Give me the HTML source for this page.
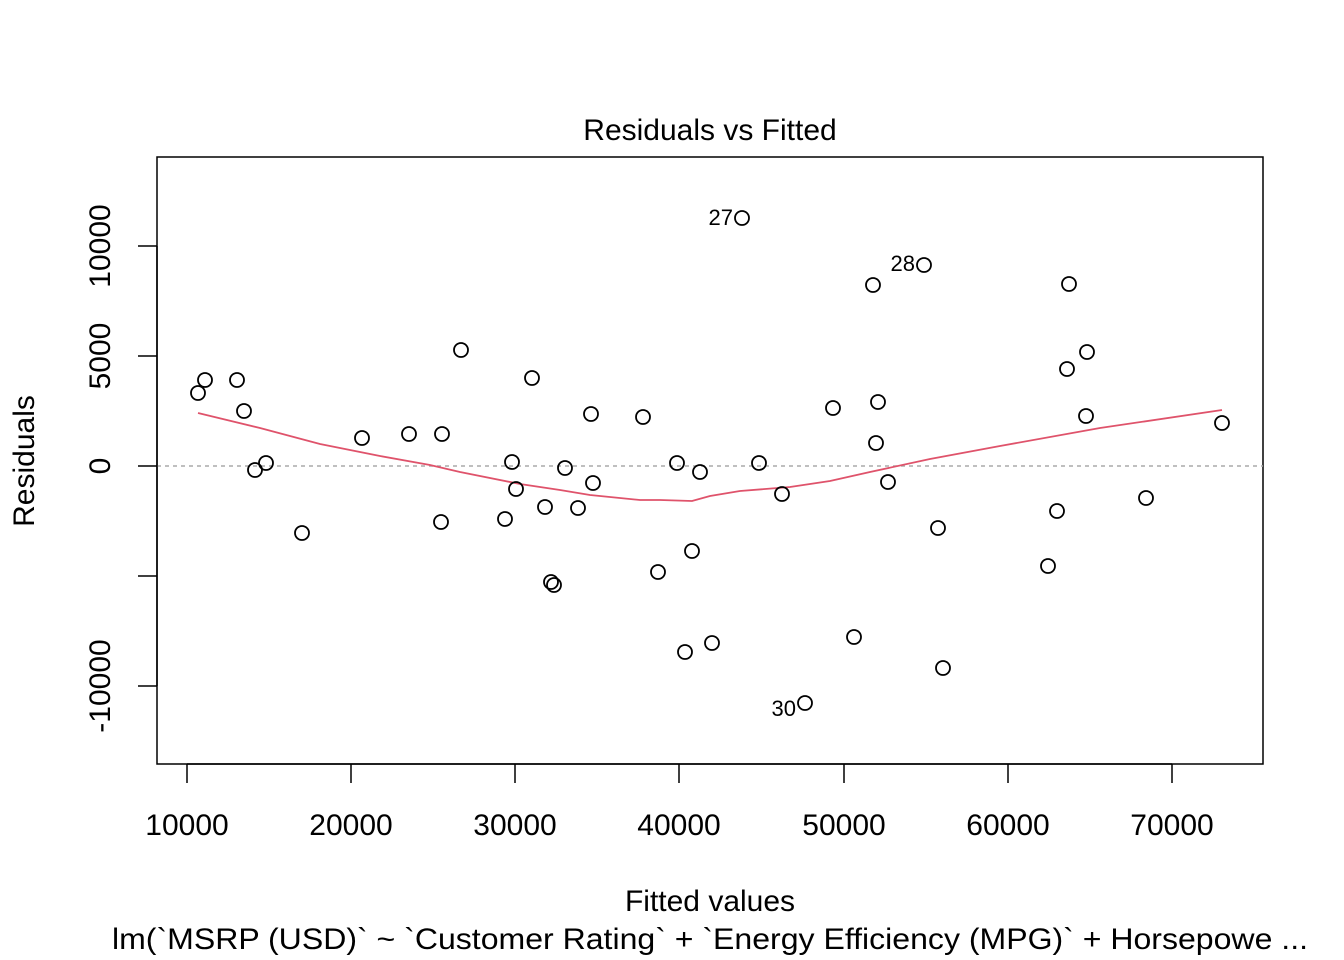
<!DOCTYPE html>
<html><head><meta charset="utf-8"><style>body{margin:0;background:#fff}svg{display:block}text{font-family:"Liberation Sans",Arial,sans-serif;fill:#000}</style></head><body>
<svg width="1344" height="960" xmlns="http://www.w3.org/2000/svg">
<rect x="157" y="157" width="1106" height="607" fill="none" stroke="#000" stroke-width="1.5"/>
<line x1="157" y1="466" x2="1263" y2="466" stroke="#aaa" stroke-width="1.5" stroke-dasharray="4,4"/>
<g stroke="#000" stroke-width="1.5">
<line x1="187" y1="764" x2="1172" y2="764"/>
<line x1="187" y1="764" x2="187" y2="783"/><line x1="351" y1="764" x2="351" y2="783"/><line x1="515" y1="764" x2="515" y2="783"/><line x1="679" y1="764" x2="679" y2="783"/><line x1="844" y1="764" x2="844" y2="783"/><line x1="1008" y1="764" x2="1008" y2="783"/><line x1="1172" y1="764" x2="1172" y2="783"/>
<line x1="157" y1="246" x2="157" y2="686"/>
<line x1="138" y1="246" x2="157" y2="246"/><line x1="138" y1="356" x2="157" y2="356"/><line x1="138" y1="466" x2="157" y2="466"/><line x1="138" y1="576" x2="157" y2="576"/><line x1="138" y1="686" x2="157" y2="686"/>
</g>
<g font-size="30" text-anchor="middle">
<text x="187" y="835">10000</text><text x="351" y="835">20000</text><text x="515" y="835">30000</text><text x="679" y="835">40000</text><text x="844" y="835">50000</text><text x="1008" y="835">60000</text><text x="1172" y="835">70000</text>
<text transform="translate(110,246) rotate(-90)">10000</text>
<text transform="translate(110,356) rotate(-90)">5000</text>
<text transform="translate(110,466) rotate(-90)">0</text>
<text transform="translate(110,686) rotate(-90)">-10000</text>
<text transform="translate(34,461) rotate(-90)">Residuals</text>
<text x="710" y="911">Fitted values</text>
<text x="710" y="140">Residuals vs Fitted</text>
<text x="710" y="949" textLength="1196" lengthAdjust="spacingAndGlyphs">lm(`MSRP (USD)` ~ `Customer Rating` + `Energy Efficiency (MPG)` + Horsepowe ...</text>
</g>
<polyline fill="none" stroke="#DF536B" stroke-width="1.8" points="198,413 260,428 320,444 380,456 430,465 460,472 520,484 560,490 590,495 640,500 660,500 692,501 710,496 740,491 790,487 830,481 870,472 930,459 1000,446 1100,428 1222,410"/>
<g fill="none" stroke="#000" stroke-width="1.8">
<circle cx="198" cy="393" r="7"/><circle cx="205" cy="380" r="7"/><circle cx="237" cy="380" r="7"/><circle cx="244" cy="411" r="7"/><circle cx="255" cy="470" r="7"/><circle cx="266" cy="463" r="7"/><circle cx="302" cy="533" r="7"/><circle cx="362" cy="438" r="7"/><circle cx="409" cy="434" r="7"/><circle cx="442" cy="434" r="7"/><circle cx="441" cy="522" r="7"/><circle cx="461" cy="350" r="7"/><circle cx="505" cy="519" r="7"/><circle cx="512" cy="462" r="7"/><circle cx="516" cy="489" r="7"/><circle cx="532" cy="378" r="7"/><circle cx="545" cy="507" r="7"/><circle cx="551" cy="582" r="7"/><circle cx="554" cy="585" r="7"/><circle cx="565" cy="468" r="7"/><circle cx="578" cy="508" r="7"/><circle cx="591" cy="414" r="7"/><circle cx="593" cy="483" r="7"/><circle cx="643" cy="417" r="7"/><circle cx="658" cy="572" r="7"/><circle cx="677" cy="463" r="7"/><circle cx="685" cy="652" r="7"/><circle cx="692" cy="551" r="7"/><circle cx="700" cy="472" r="7"/><circle cx="712" cy="643" r="7"/><circle cx="742" cy="218" r="7"/><circle cx="759" cy="463" r="7"/><circle cx="782" cy="494" r="7"/><circle cx="805" cy="703" r="7"/><circle cx="833" cy="408" r="7"/><circle cx="854" cy="637" r="7"/><circle cx="873" cy="285" r="7"/><circle cx="876" cy="443" r="7"/><circle cx="878" cy="402" r="7"/><circle cx="888" cy="482" r="7"/><circle cx="924" cy="265" r="7"/><circle cx="938" cy="528" r="7"/><circle cx="943" cy="668" r="7"/><circle cx="1048" cy="566" r="7"/><circle cx="1057" cy="511" r="7"/><circle cx="1067" cy="369" r="7"/><circle cx="1069" cy="284" r="7"/><circle cx="1086" cy="416" r="7"/><circle cx="1087" cy="352" r="7"/><circle cx="1146" cy="498" r="7"/><circle cx="1222" cy="423" r="7"/>
</g>
<g font-size="22" text-anchor="end">
<text x="733" y="225">27</text><text x="915" y="271">28</text><text x="796" y="716">30</text>
</g>
</svg>
</body></html>
